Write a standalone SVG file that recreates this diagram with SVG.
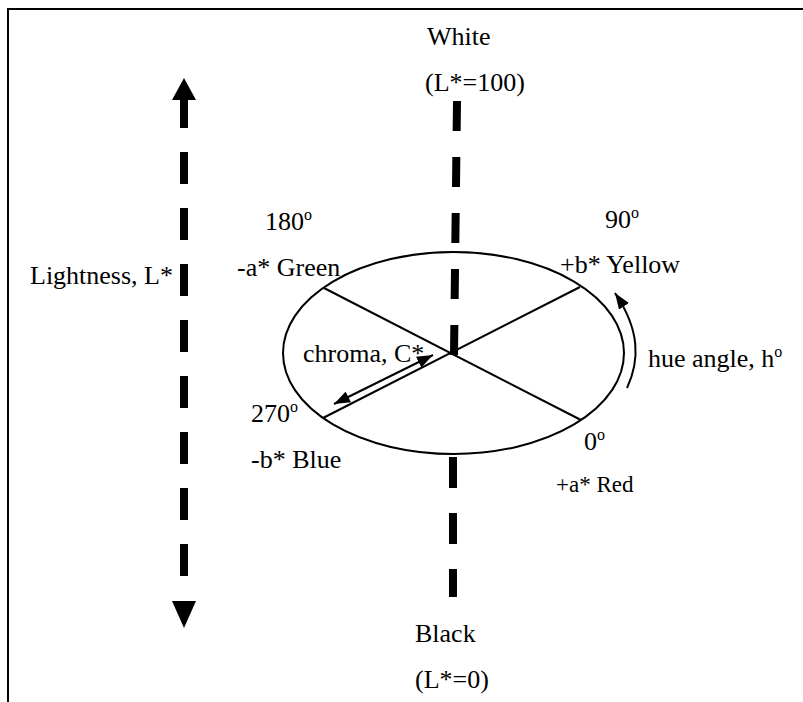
<svg xmlns="http://www.w3.org/2000/svg" width="803" height="702" viewBox="0 0 803 702">
  <style>
    text { font-family: "Liberation Serif", "Times New Roman", serif; font-size: 26px; fill: #000; }
    .sup { font-size: 16px; }
    .small { font-size: 23px; }
    .thin { fill: none; stroke: #000; stroke-width: 2; }
    .dash { fill: none; stroke: #000; stroke-width: 8; }
    .head { fill: #000; }
  </style>
  <defs>
    <marker id="arr" viewBox="0 0 16 12" refX="16" refY="6" markerWidth="16" markerHeight="12" markerUnits="userSpaceOnUse" orient="auto-start-reverse">
      <path d="M0,0 L16,6 L0,12 z" fill="#000"/>
    </marker>
  </defs>
  <rect width="803" height="702" fill="#fff"/>
  <path class="thin" d="M8,702 V9 H803"/>

  <g id="lightness-axis">
    <line class="dash" x1="184" y1="96" x2="184" y2="576" stroke-dasharray="32 24"/>
    <polygon class="head" points="184,78 196,100 172,100"/>
    <polygon class="head" points="172,601 196,601 184,628"/>
    <text x="30" y="284">Lightness, L*</text>
  </g>

  <g id="center-axis">
    <line class="dash" x1="457" y1="101" x2="454" y2="355" stroke-dasharray="30 26"/>
    <line class="dash" x1="453" y1="457" x2="453" y2="597" stroke-dasharray="31 25"/>
  </g>

  <g id="white">
    <text x="427" y="45">White</text>
    <text x="425" y="91">(L*=100)</text>
  </g>

  <g id="black">
    <text x="415" y="642">Black</text>
    <text x="415" y="688">(L*=0)</text>
  </g>

  <g id="color-circle">
    <ellipse class="thin" cx="453.5" cy="353" rx="170.5" ry="101"/>
    <line class="thin" x1="324" y1="288" x2="581" y2="420"/>
    <line class="thin" x1="323" y1="418" x2="580" y2="287"/>
  </g>

  <g id="green">
    <text x="265" y="230">180<tspan class="sup" dy="-10">o</tspan></text>
    <text x="237" y="276">-a* Green</text>
  </g>

  <g id="yellow">
    <text x="605" y="228">90<tspan class="sup" dy="-10">o</tspan></text>
    <text x="560" y="273">+b* Yellow</text>
  </g>

  <g id="blue">
    <text x="251" y="422">270<tspan class="sup" dy="-10">o</tspan></text>
    <text x="251" y="468">-b* Blue</text>
  </g>

  <g id="red">
    <text x="584" y="450">0<tspan class="sup" dy="-10">o</tspan></text>
    <text class="small" x="556" y="492">+a* Red</text>
  </g>

  <g id="chroma">
    <text x="303" y="362">chroma, C*</text>
  </g>

  <g id="hue">
    <text x="648" y="367">hue angle, h<tspan class="sup" dy="-10">o</tspan></text>
  </g>

  <g id="connectors">
    <line class="thin" x1="334" y1="404" x2="433" y2="355" marker-start="url(#arr)" marker-end="url(#arr)"/>
    <path class="thin" d="M627,388 C640,360 640,330 615,293" marker-end="url(#arr)"/>
  </g>
</svg>
